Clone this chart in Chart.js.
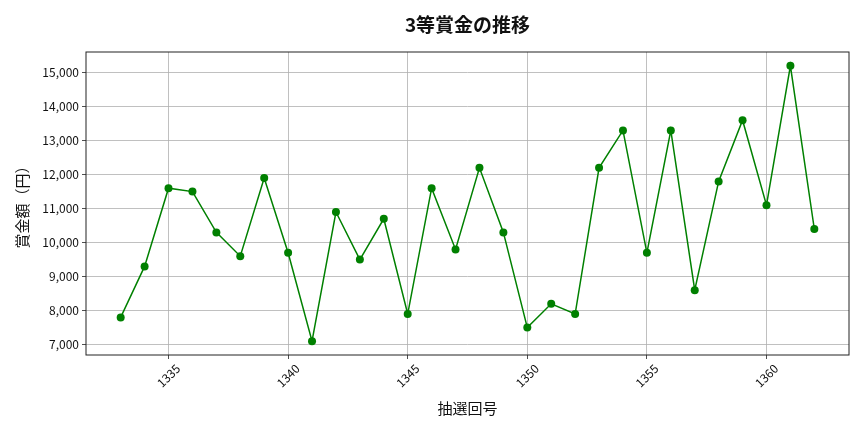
<!DOCTYPE html>
<html>
<head>
<meta charset="utf-8">
<script src="https://cdn.jsdelivr.net/npm/chart.js@4"></script>
<style>
  html, body { margin: 0; padding: 0; background: #fff; }
  #wrap { width: 864px; height: 432px; }
</style>
</head>
<body>
<div id="wrap"><canvas id="chart" width="864" height="432"></canvas></div>
<script>
// draw numbers and 3rd prize amounts (yen)
const drawNumbers = [1333, 1334, 1335, 1336, 1337, 1338, 1339, 1340, 1341, 1342,
    1343, 1344, 1345, 1346, 1347, 1348, 1349, 1350, 1351, 1352,
    1353, 1354, 1355, 1356, 1357, 1358, 1359, 1360, 1361, 1362];
const prizeValues = [7800, 9300, 11600, 11500, 10300, 9600, 11900, 9700, 7100, 10900,
    9500, 10700, 7900, 11600, 9800, 12200, 10300, 7500, 8200, 7900,
    12200, 13300, 9700, 13300, 8600, 11800, 13600, 11100, 15200, 10400];
const xTickValues = [1335, 1340, 1345, 1350, 1355, 1360];
const yTickValues = [7000, 8000, 9000, 10000, 11000, 12000, 13000, 14000, 15000];

const titleText = '3等賞金の推移';
const xTitle = '抽選回号';
const yTitle = '賞金額（円）';

const FONT = "'Noto Sans CJK JP', 'Noto Sans', sans-serif";
const fmt = v => v.toLocaleString('en-US');

// frame, rotated x labels and titles drawn the matplotlib way
const decorations = {
    id: 'decorations',
    afterDraw(chart) {
        const { ctx, chartArea: a, scales } = chart;
        ctx.save();
        ctx.strokeStyle = '#222';
        ctx.lineWidth = 1;
        ctx.strokeRect(a.left, a.top, a.right - a.left, a.bottom - a.top);

        ctx.fillStyle = '#111';
        ctx.font = '12px ' + FONT;
        xTickValues.forEach(v => {
            const x = scales.x.getPixelForValue(v);
            const label = String(v);
            const w = ctx.measureText(label).width;
            const h = 12;
            const off = (w + h) / (2 * Math.SQRT2);
            ctx.save();
            ctx.translate(x, a.bottom + 7 + off);
            ctx.rotate(-Math.PI / 4);
            ctx.textAlign = 'center';
            ctx.textBaseline = 'middle';
            ctx.fillText(label, 0, 0);
            ctx.restore();
        });

        ctx.textAlign = 'center';
        ctx.textBaseline = 'middle';
        ctx.font = 'bold 19px ' + FONT;
        ctx.fillText(titleText, (a.left + a.right) / 2, 25);

        ctx.font = '15px ' + FONT;
        ctx.fillText(xTitle, (a.left + a.right) / 2, 408);

        ctx.save();
        ctx.translate(22, (a.top + a.bottom) / 2);
        ctx.rotate(-Math.PI / 2);
        ctx.fillText(yTitle, 0, 0);
        ctx.restore();
        ctx.restore();
    }
};

new Chart(document.getElementById('chart'), {
    type: 'line',
    data: {
        datasets: [{
            data: drawNumbers.map((n, i) => ({ x: n, y: prizeValues[i] })),
            borderColor: '#008000',
            backgroundColor: '#008000',
            borderWidth: 1.5,
            pointRadius: 4,
            pointHoverRadius: 4,
            pointBorderWidth: 0,
            tension: 0
        }]
    },
    options: {
        responsive: false,
        animation: false,
        events: [],
        layout: { padding: { top: 52, right: 15, left: 0, bottom: 0 } },
        plugins: {
            legend: { display: false },
            title: { display: false },
            tooltip: { enabled: false }
        },
        scales: {
            x: {
                type: 'linear',
                min: 1331.55,
                max: 1363.45,
                afterBuildTicks: s => { s.ticks = xTickValues.map(v => ({ value: v })); },
                afterFit: s => { s.height = 77; },
                grid: { color: '#b0b0b0', lineWidth: 0.8, tickLength: 4, tickColor: '#222' },
                border: { display: false },
                ticks: { display: false }
            },
            y: {
                type: 'linear',
                min: 6695,
                max: 15605,
                afterBuildTicks: s => { s.ticks = yTickValues.map(v => ({ value: v })); },
                afterFit: s => { s.width = 86; },
                grid: { color: '#b0b0b0', lineWidth: 0.8, tickLength: 4, tickColor: '#222' },
                border: { display: false },
                ticks: {
                    color: '#111',
                    padding: 3,
                    font: { family: FONT, size: 12 },
                    callback: v => fmt(v)
                }
            }
        }
    },
    plugins: [decorations]
});
</script>
</body>
</html>
